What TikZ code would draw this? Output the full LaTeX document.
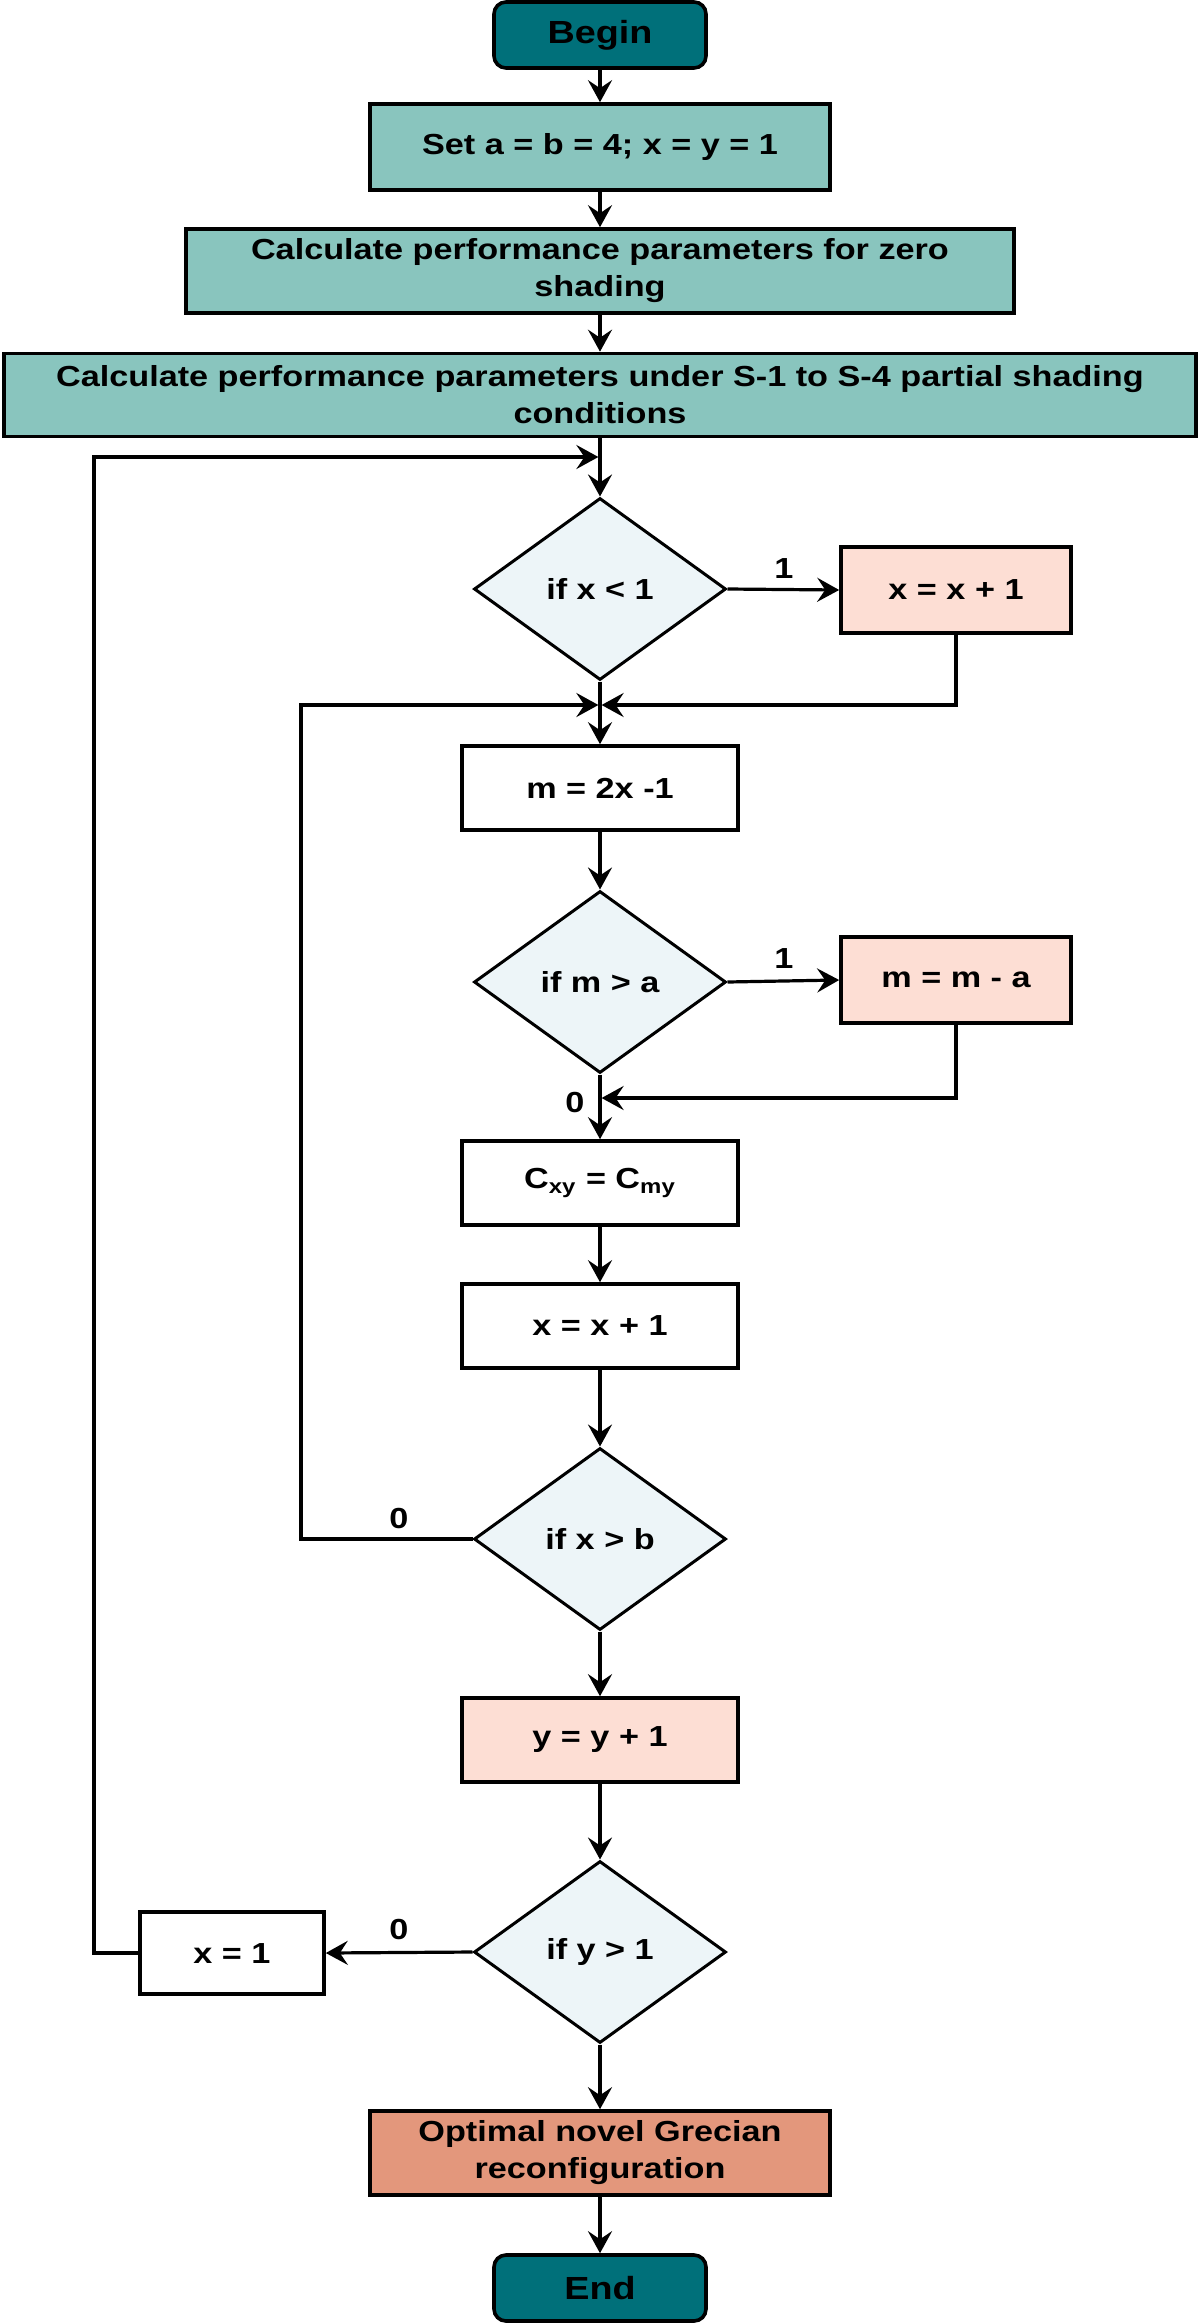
\documentclass[tikz,border=0pt]{standalone}
\usepackage{fontspec}
\setmainfont{Liberation Sans}[FakeStretch=1.18]
\usetikzlibrary{shapes.geometric,arrows.meta}
\definecolor{tealdark}{RGB}{0,112,122}
\definecolor{teallight}{RGB}{137,197,190}
\definecolor{decfill}{RGB}{237,245,248}
\definecolor{salmonlight}{RGB}{253,222,212}
\definecolor{optfill}{RGB}{227,151,124}
\begin{document}
\begin{tikzpicture}[x=0.5pt,y=-0.5pt,
 every node/.style={font=\bfseries\fontsize{14.5}{18.5}\selectfont},
 box/.style={draw,line width=1.8pt,inner sep=0pt,align=center},
 term/.style={box,rounded corners=6pt,fill=tealdark,minimum width=106pt,minimum height=33pt,font=\bfseries\fontsize{16}{19}\selectfont},
 procbox/.style={box,fill=white,minimum width=138pt,minimum height=42pt},
 incbox/.style={box,fill=salmonlight,minimum width=115pt,minimum height=43pt},
 dec/.style={diamond,draw,line width=1.5pt,fill=decfill,inner sep=0pt,minimum width=126pt,minimum height=91pt},
 conn/.style={line width=1.6pt,-{Stealth[length=11pt,width=12pt,inset=4pt]}},
 lbl/.style={inner sep=0pt}
]
\useasboundingbox (0,0) rectangle (1200,2323);

\node[term] (begin) at (600,35) {Begin};
\node[box,fill=teallight,minimum width=230pt,minimum height=43pt] (set) at (600,147) {Set a = b = 4; x = y = 1};
\node[box,fill=teallight,minimum width=414pt,minimum height=42pt] (zero) at (600,271) {Calculate performance parameters for zero\\shading};
\node[box,fill=teallight,minimum width=596pt,minimum height=41.5pt] (s14) at (600,395) {Calculate performance parameters under S-1 to S-4 partial shading\\conditions};

\node[dec] (d1) at (600,589) {if x < 1};
\node[incbox] (xa) at (956,590) {x = x + 1};
\node[procbox] (m) at (600,788) {m = 2x -1};
\node[dec] (d2) at (600,982) {if m > a};
\node[incbox] (mma) at (956,980) {m = m - a};
\node[procbox] (cxy) at (600,1183) {C\textsubscript{xy} = C\textsubscript{my}};
\node[procbox] (xb) at (600,1326) {x = x + 1};
\node[dec] (d3) at (600,1539) {if x > b};
\node[procbox,fill=salmonlight] (yinc) at (600,1740) {y = y + 1};
\node[dec] (d4) at (600,1952) {if y > 1};
\node[procbox,minimum width=92pt,minimum height=41pt] (x1) at (232,1953) {x = 1};
\node[box,fill=optfill,minimum width=230pt,minimum height=42pt] (opt) at (600,2153) {Optimal novel Grecian\\reconfiguration};
\node[term] (end) at (600,2288) {End};

\coordinate (top) at (600,457);
\coordinate (lt) at (94,457);
\coordinate (j1) at (600,705);
\coordinate (l1) at (301,705);
\coordinate (j2) at (600,1098);

\draw[conn] (begin) -- (set);
\draw[conn] (set) -- (zero);
\draw[conn] (zero) -- (s14);
\draw[conn] (s14) -- (d1);
\draw[conn,shorten >=0.8pt] (x1.west) -| (lt) -- (top);
\draw[conn] (d1.east) -- (xa.west);
\node[lbl] (one1) at (784,569) {1};
\draw[conn] (d1.south) -- (m.north);
\draw[conn,shorten >=0.8pt] (xa.south) |- (j1);
\draw[conn,shorten >=0.8pt] (d3.west) -| (l1) -- (j1);
\node[lbl] (zero3) at (399,1518) {0};
\draw[conn] (m) -- (d2);
\draw[conn] (d2.east) -- (mma.west);
\node[lbl] (one2) at (784,959) {1};
\draw[conn,shorten >=0.8pt] (mma.south) |- (j2);
\draw[conn] (d2.south) -- (cxy.north);
\node[lbl] (zero2) at (575,1103) {0};
\draw[conn] (cxy) -- (xb);
\draw[conn] (xb) -- (d3);
\draw[conn] (d3) -- (yinc);
\draw[conn] (yinc) -- (d4);
\draw[conn] (d4.west) -- (x1.east);
\node[lbl] (zero4) at (399,1929) {0};
\draw[conn] (d4.south) -- (opt);
\draw[conn] (opt) -- (end);
\end{tikzpicture}
\end{document}
